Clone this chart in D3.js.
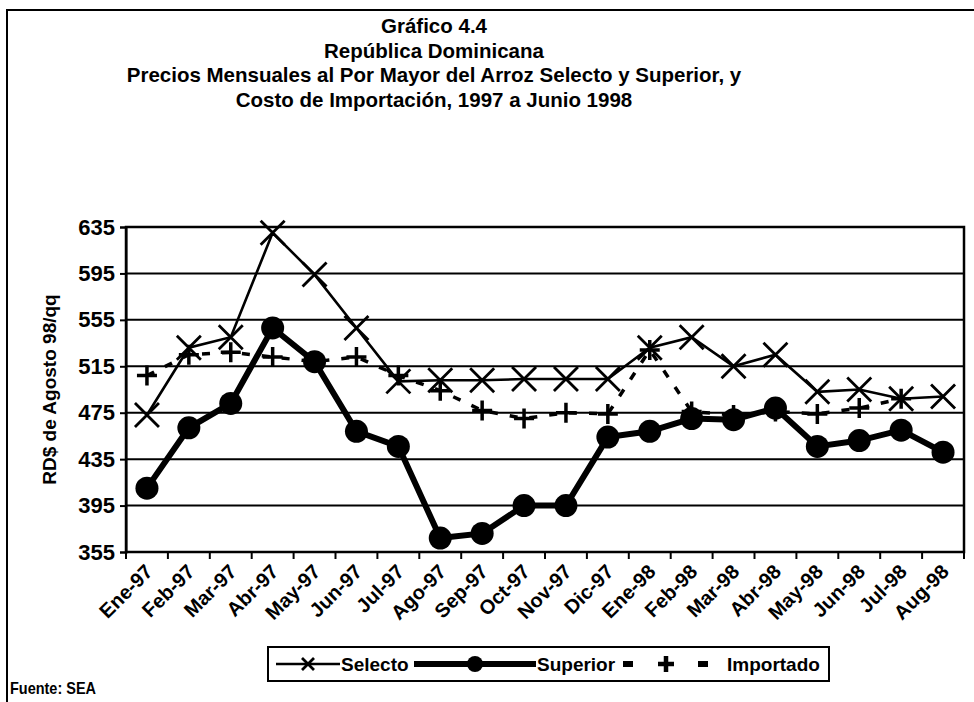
<!DOCTYPE html>
<html><head><meta charset="utf-8">
<script src="https://cdn.jsdelivr.net/npm/d3@7"></script>
<style>body{margin:0;background:#fff}svg{display:block}text{font-family:"Liberation Sans",Arial,sans-serif;fill:#000}</style>
</head><body>
<script>
const months = ["Ene-97","Feb-97","Mar-97","Abr-97","May-97","Jun-97","Jul-97","Ago-97","Sep-97","Oct-97","Nov-97","Dic-97","Ene-98","Feb-98","Mar-98","Abr-98","May-98","Jun-98","Jul-98","Aug-98"];
const selecto = [473,531,540,630,594,548,502,503,503,504,504,504,531,540,515,525,493,495,487,489];
const superior = [410,462,483,548,519,459,446,367,371,395,395,454,459,470,469,479,446,451,460,441];
const importado = [507,525,527,523,519,523,507,494,477,470,475,474,529,476,473,476,474,479,487,null];
const yTicks = [355,395,435,475,515,555,595,635];
const titleLines = ["Gráfico 4.4","República Dominicana","Precios Mensuales al Por Mayor del Arroz Selecto y Superior, y","Costo de Importación, 1997 a Junio 1998"];
const legendNames = ["Selecto","Superior","Importado"];

const W=974,H=702;
const svg=d3.select("body").append("svg").attr("width",W).attr("height",H);
svg.append("path").attr("d","M7,702 L7,10 L974,10").attr("fill","none").attr("stroke","#000").attr("stroke-width",2);

const L=126,R=964,T=227,B=552;
const x=d3.scaleBand().domain(months).range([L,R]);
const y=d3.scaleLinear().domain([355,635]).range([B,T]);
const cx=d=>x(d)+x.bandwidth()/2;

svg.selectAll(".title").data(titleLines).join("text")
  .attr("x",434).attr("y",(d,i)=>33+i*24.5).attr("text-anchor","middle")
  .attr("font-size",20.5).attr("font-weight","bold").text(d=>d);

svg.append("g").selectAll("line").data(yTicks).join("line")
  .attr("x1",L).attr("x2",R).attr("y1",d=>y(d)).attr("y2",d=>y(d))
  .attr("stroke","#000").attr("stroke-width",2);

const ya=svg.append("g").attr("transform",`translate(${L},0)`)
  .call(d3.axisLeft(y).tickValues(yTicks).tickSize(6).tickPadding(5));
ya.selectAll("text").attr("font-size",22).attr("font-weight","bold").style("font-family","Liberation Sans, Arial");
ya.select(".domain").attr("stroke-width",2);
ya.selectAll(".tick line").attr("stroke-width",2);

const xa=svg.append("g").attr("transform",`translate(0,${B})`)
  .call(d3.axisBottom(x).tickSize(0).tickFormat(d=>d));
xa.select(".domain").remove();
xa.selectAll("text").attr("font-size",20).attr("font-weight","bold").style("font-family","Liberation Sans, Arial")
  .attr("text-anchor","end").attr("y",0).attr("dy",0)
  .attr("transform","translate(7,21) rotate(-45)");
svg.append("g").selectAll("line").data(d3.range(months.length+1)).join("line")
  .attr("x1",i=>L+i*x.step()).attr("x2",i=>L+i*x.step()).attr("y1",B).attr("y2",B+7)
  .attr("stroke","#000").attr("stroke-width",2);
svg.append("rect").attr("x",L).attr("y",T).attr("width",R-L).attr("height",B-T)
  .attr("fill","none").attr("stroke","#000").attr("stroke-width",2.5);

svg.append("text").attr("transform",`translate(56,${(T+B)/2}) rotate(-90)`)
  .attr("text-anchor","middle").attr("font-size",19).attr("font-weight","bold").text("RD$ de Agosto 98/qq");

const line=d3.line().defined(d=>d[1]!=null).x(d=>cx(d[0])).y(d=>y(d[1]));
const imp=months.map((m,i)=>[m,importado[i]]);
const sel=months.map((m,i)=>[m,selecto[i]]);
const sup=months.map((m,i)=>[m,superior[i]]);

svg.append("path").datum(imp).attr("d",line).attr("fill","none").attr("stroke","#000")
  .attr("stroke-width",3.5).attr("stroke-dasharray","8,12");
const plus=(g,px,py,s,w)=>g.append("path").attr("d",`M${px-s},${py}H${px+s}M${px},${py-s}V${py+s}`)
  .attr("stroke","#000").attr("stroke-width",w||3.5).attr("fill","none");
const pg=svg.append("g");
imp.filter(d=>d[1]!=null).forEach(d=>plus(pg,cx(d[0]),y(d[1]),10));

svg.append("path").datum(sel).attr("d",line).attr("fill","none").attr("stroke","#000").attr("stroke-width",2.6);
const cross=(g,px,py,s,w)=>g.append("path").attr("d",`M${px-s},${py-s}L${px+s},${py+s}M${px-s},${py+s}L${px+s},${py-s}`)
  .attr("stroke","#000").attr("stroke-width",w||2.8).attr("fill","none");
const sg=svg.append("g");
sel.forEach(d=>cross(sg,cx(d[0]),y(d[1]),12));

svg.append("path").datum(sup).attr("d",line).attr("fill","none").attr("stroke","#000").attr("stroke-width",6);
svg.append("g").selectAll("circle").data(sup).join("circle")
  .attr("cx",d=>cx(d[0])).attr("cy",d=>y(d[1])).attr("r",11.5).attr("fill","#000");

// legend
const lg=svg.append("g");
lg.append("rect").attr("x",268).attr("y",647).attr("width",561).attr("height",34)
  .attr("fill","#fff").attr("stroke","#000").attr("stroke-width",2);
const ly=664;
lg.append("line").attr("x1",276).attr("x2",340).attr("y1",ly).attr("y2",ly).attr("stroke","#000").attr("stroke-width",2.6);
cross(lg,308,ly,6,2.8);
lg.append("text").attr("x",341).attr("y",ly+7).attr("font-size",19).attr("font-weight","bold").text(legendNames[0]);
lg.append("line").attr("x1",414).attr("x2",536).attr("y1",ly).attr("y2",ly).attr("stroke","#000").attr("stroke-width",6);
lg.append("circle").attr("cx",475).attr("cy",ly).attr("r",8).attr("fill","#000");
lg.append("text").attr("x",537).attr("y",ly+7).attr("font-size",19).attr("font-weight","bold").text(legendNames[1]);
lg.append("rect").attr("x",623).attr("y",ly-3).attr("width",10).attr("height",6).attr("fill","#000");
lg.append("rect").attr("x",698).attr("y",ly-3).attr("width",10).attr("height",6).attr("fill","#000");
plus(lg,666,ly,8,4.5);
lg.append("text").attr("x",727).attr("y",ly+7).attr("font-size",19).attr("font-weight","bold").text(legendNames[2]);

svg.append("text").attr("x",10).attr("y",694).attr("font-size",17).attr("font-weight","bold")
  .attr("textLength",86).attr("lengthAdjust","spacingAndGlyphs").text("Fuente: SEA");
</script>
</body></html>
